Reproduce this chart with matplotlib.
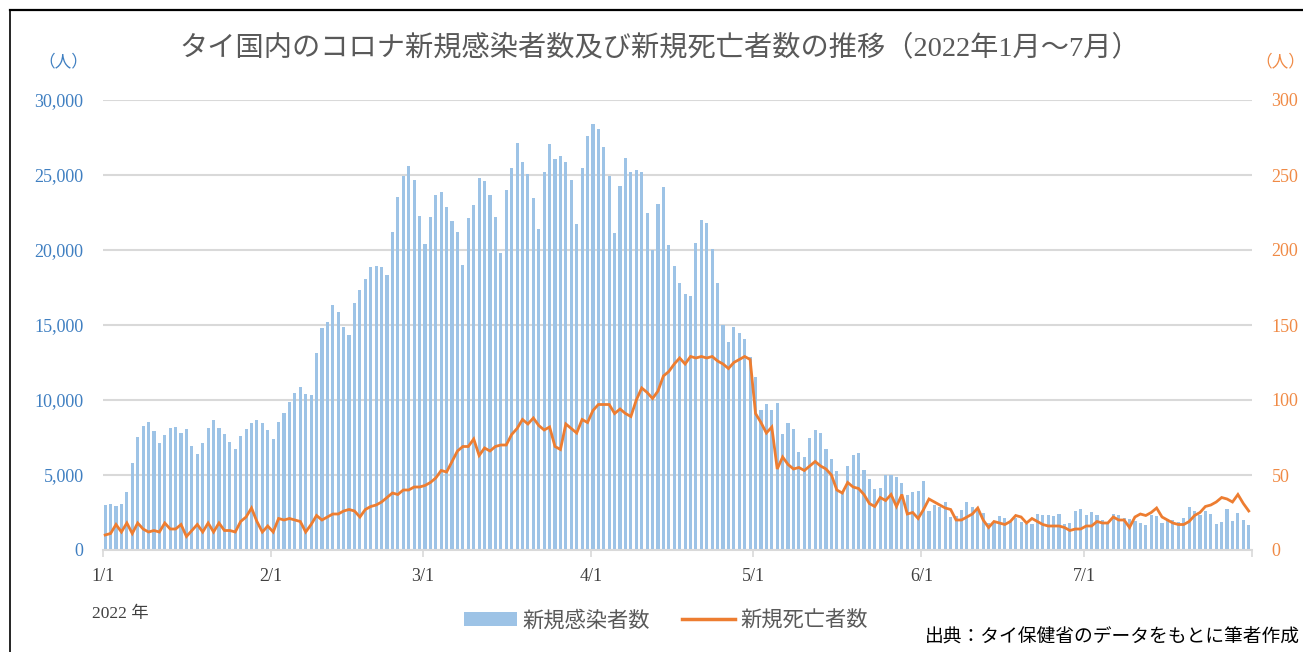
import numpy as np
import matplotlib
matplotlib.use("Agg")
import matplotlib.pyplot as plt
from matplotlib.lines import Line2D
from matplotlib.patches import Patch

# fonts: serif digits, japanese falls back to Noto Sans CJK
plt.rcParams['font.family'] = ['Liberation Serif', 'Noto Sans CJK JP']

# daily new cases
cases_jan = [3011, 3091, 2927, 3081, 3899, 5775, 7526, 8263, 8511, 7926, 7133, 7681, 8158, 8167, 7793, 8077,
             6929, 6405, 7115, 8129, 8634, 8112, 7705, 7175, 6747, 7587, 8052, 8470, 8648, 8491, 8002]
cases_feb = [7422, 8543, 9145, 9859, 10437, 10839, 10416, 10349, 13159, 14787, 15211, 16303, 15835, 14854,
             14363, 16459, 17329, 18042, 18867, 18912, 18845, 18332, 21231, 23550, 24933, 25580, 24688, 22279]
cases_mar = [20430, 22210, 23662, 23863, 22859, 21923, 21187, 19001, 22123, 23015, 24822, 24621, 23640, 22190,
             19782, 23974, 25491, 27119, 25847, 25045, 23484, 21432, 25201, 27074, 26093, 26249, 25870, 24688,
             21722, 25446, 27609]
cases_apr = [28412, 28077, 26873, 24933, 21120, 24287, 26115, 25178, 25335, 25178, 22435, 20027, 23037, 24175,
             20317, 18934, 17797, 17039, 16927, 20495, 21967, 21833, 20094, 17797, 15009, 13850, 14898, 14474,
             14073, 12891]
cases_may = [11553, 9350, 9731, 9305, 9821, 7736, 8475, 8094, 6502, 6211, 7444, 8027, 7803, 6727, 6099, 5247,
             3812, 5628, 6323, 6480, 5359, 4709, 4081, 4148, 5000, 4978, 4843, 4485, 3655, 3834, 3960]
cases_jun = [4574, 2575, 2975, 2864, 3219, 2176, 2242, 2686, 3175, 2842, 2753, 2464, 1798, 1820, 2264, 2153,
             1865, 2131, 1887, 1754, 1732, 2375, 2309, 2309, 2242, 2375, 1754, 1776, 2575, 2708]
cases_jul = [2364, 2509, 2309, 1976, 1865, 2420, 2353, 2131, 2087, 1954, 1798, 1665, 2353, 2242, 1798, 2087,
             2020, 1865, 2109, 2886, 2597, 2353, 2575, 2398, 1732, 1843, 2731, 1909, 2486, 1976, 1643]

# daily new deaths
deaths_jan = [10, 11, 17, 12, 18, 11, 18, 14, 12, 13, 12, 18, 14, 14, 17, 9, 13, 17, 12, 18, 12, 18, 13, 13,
              12, 19, 22, 28, 19, 12, 16]
deaths_feb = [12, 21, 20, 21, 20, 19, 12, 17, 23, 20, 22, 24, 24, 26, 27, 26, 22, 27, 29, 30, 32, 35, 38, 37,
              40, 40, 42, 42]
deaths_mar = [43, 45, 48, 53, 52, 59, 66, 69, 69, 74, 63, 68, 66, 69, 70, 70, 77, 81, 87, 84, 88, 83, 80, 82,
              69, 67, 84, 81, 78, 87, 85]
deaths_apr = [93, 97, 97, 97, 91, 94, 91, 89, 100, 108, 105, 101, 106, 116, 119, 124, 128, 124, 129, 128, 129,
              128, 129, 126, 124, 121, 125, 127, 129, 127]
deaths_may = [91, 85, 78, 82, 54, 62, 57, 54, 55, 53, 56, 59, 56, 54, 50, 40, 38, 45, 42, 41, 37, 31, 29, 35,
              33, 37, 29, 37, 24, 25, 21]
deaths_jun = [27, 34, 32, 30, 28, 27, 20, 20, 22, 24, 28, 20, 15, 19, 18, 17, 19, 23, 22, 18, 21, 19, 17, 16,
              16, 16, 15, 13, 14, 14]
deaths_jul = [16, 16, 19, 18, 18, 22, 20, 20, 15, 22, 24, 23, 25, 28, 22, 20, 18, 17, 17, 19, 23, 25, 29, 30,
              32, 35, 34, 32, 37, 31, 26]

month_labels = ['1/1', '2/1', '3/1', '4/1', '5/1', '6/1', '7/1']

cases = np.array(cases_jan + cases_feb + cases_mar + cases_apr + cases_may + cases_jun + cases_jul)
deaths = np.array(deaths_jan + deaths_feb + deaths_mar + deaths_apr + deaths_may + deaths_jun + deaths_jul)
month_len = [len(cases_jan), len(cases_feb), len(cases_mar), len(cases_apr), len(cases_may), len(cases_jun),
             len(cases_jul)]
month_start = np.concatenate([[0], np.cumsum(month_len)])

blue = '#9DC3E6'
blue_txt = '#3F7FC1'
orange = '#ED7D31'
orange_txt = '#F08A45'
grid_c = '#D9D9D9'

fig = plt.figure(figsize=(13.03, 6.52), dpi=100)
ax = fig.add_axes([103 / 1303, 1 - 550 / 652, (1252 - 103) / 1303, 450 / 652])
ax2 = ax.twinx()

x = np.arange(len(cases)) + 0.4
ax.bar(x, cases, width=0.58, color=blue, zorder=2)
ax2.plot(x, deaths, color=orange, lw=2.0, zorder=3, solid_joinstyle='miter')

ax.set_xlim(0, len(cases))
ax.set_ylim(0, 30000)
ax2.set_ylim(0, 300)
ax.set_yticks(np.arange(0, 30001, 5000))
ax.set_yticklabels([f'{v:,}' for v in range(0, 30001, 5000)])
ax2.set_yticks(np.arange(0, 301, 50))
ax.yaxis.grid(True, color=grid_c, lw=1.5, zorder=0)
ax.set_axisbelow(True)

ax.set_xticks(month_start)
ax.set_xticklabels(month_labels + [''])

for a in (ax, ax2):
    for s in a.spines.values():
        s.set_visible(False)
ax.spines['bottom'].set_visible(True)
ax.spines['bottom'].set_color(grid_c)
ax.spines['bottom'].set_linewidth(1.5)

ax.tick_params(axis='x', length=5, width=1.2, color=grid_c, pad=8, labelsize=13, labelcolor='#404040')
ax.tick_params(axis='y', length=0, pad=14, labelsize=13, labelcolor=blue_txt)
ax2.tick_params(axis='y', length=0, pad=14, labelsize=13, labelcolor=orange_txt)

# texts
fig.text(0.506, 1 - 48 / 652, 'タイ国内のコロナ新規感染者数及び新規死亡者数の推移（2022年1月～7月）',
         ha='center', va='center', fontsize=20.3, color='#595959')
fig.text(63 / 1303, 1 - 62 / 652, '（人）', ha='center', va='center', fontsize=12, color=blue_txt)
fig.text(1280 / 1303, 1 - 62 / 652, '（人）', ha='center', va='center', fontsize=12, color=orange_txt)
fig.text(92 / 1303, 1 - 614 / 652, '2022 年', ha='left', va='center', fontsize=12.5, color='#404040')
fig.text(1300 / 1303, 1 - 637 / 652, '出典：タイ保健省のデータをもとに筆者作成', ha='right', va='center',
         fontsize=13.5, color='black')

handles = [Patch(facecolor=blue, edgecolor='none'), Line2D([0], [0], color=orange, lw=2.5)]
fig.legend(handles, ['新規感染者数', '新規死亡者数'], loc='center', bbox_to_anchor=(666 / 1303, 1 - 621 / 652),
           ncol=2, frameon=False, fontsize=15.3, handlelength=2.5, handleheight=0.65, handletextpad=0.25,
           columnspacing=1.5, labelcolor='#595959')

# frame lines of the original screenshot
fig.add_artist(Line2D([10 / 1303, 1], [1 - 10 / 652, 1 - 10 / 652], color='black', lw=1.6))
fig.add_artist(Line2D([10 / 1303, 10 / 1303], [0, 1 - 10 / 652], color='black', lw=1.2))

fig.savefig('out.png', dpi=100)
